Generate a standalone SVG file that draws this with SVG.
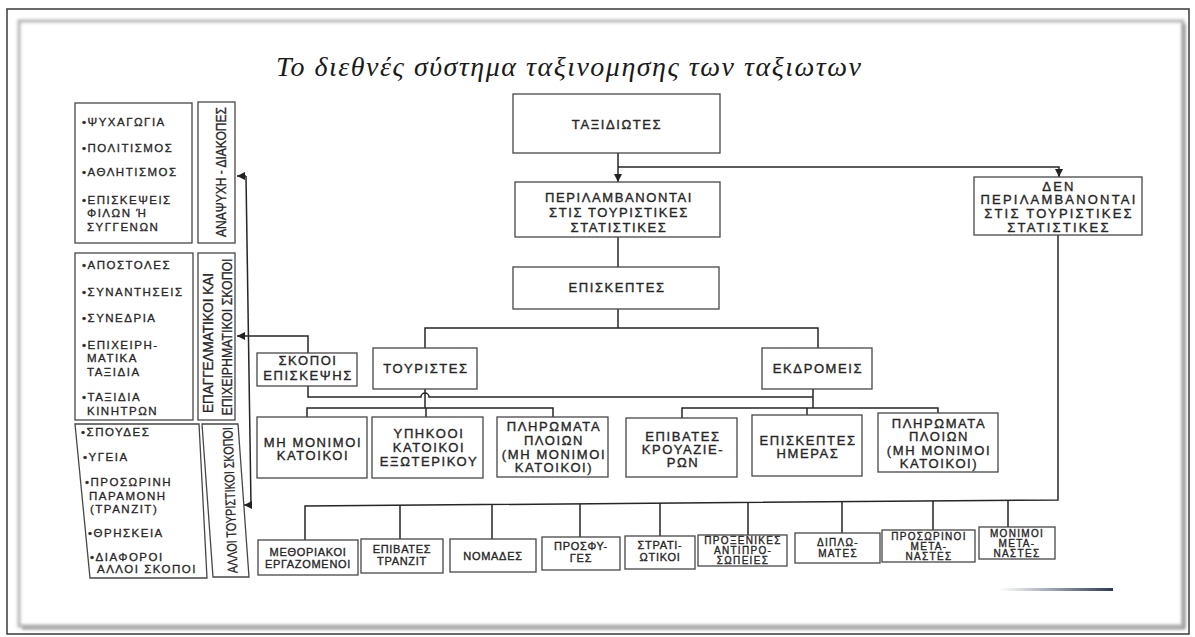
<svg xmlns="http://www.w3.org/2000/svg" width="1195" height="637" viewBox="0 0 1195 637">
  <defs>
    <marker id="arrow" viewBox="0 0 8 8" refX="8" refY="4" markerWidth="8" markerHeight="8" markerUnits="userSpaceOnUse" orient="auto">
      <path d="M0,0 L8,4 L0,8 z" fill="#222"/>
    </marker>
    <filter id="soft" x="-2%" y="-2%" width="104%" height="104%">
      <feGaussianBlur stdDeviation="1.6"/>
    </filter>
    <linearGradient id="rule" gradientUnits="userSpaceOnUse" x1="1000" y1="0" x2="1113" y2="0">
      <stop offset="0" stop-color="#2b3a55" stop-opacity="0"/>
      <stop offset="1" stop-color="#2b3a55"/>
    </linearGradient>
    <style>
      .box { fill: #fff; stroke: #474747; stroke-width: 1.3; }
      .t { font-family: "Liberation Sans", Arial, sans-serif; fill: #262626; stroke: #262626; stroke-width: 0.35px; text-anchor: middle; font-size: 13px; letter-spacing: 1.6px; }
      .wide { letter-spacing: 2.2px; }
      .sm { font-size: 11px; letter-spacing: 0.7px; }
      .xs { font-size: 10px; letter-spacing: 1.3px; }
      .item { font-family: "Liberation Sans", Arial, sans-serif; fill: #262626; stroke: #262626; stroke-width: 0.3px; font-size: 11.5px; letter-spacing: 1.5px; }
      .vlab { font-family: "Liberation Sans", Arial, sans-serif; fill: #262626; stroke: #262626; stroke-width: 0.3px; font-size: 14px; text-anchor: middle; }
      .conn { fill: none; stroke: #262626; stroke-width: 1.5; }
      .title { font-family: "Liberation Serif", "Times New Roman", serif; font-style: italic; font-size: 28px; fill: #1a1a1a; }
    </style>
  </defs>

  <!-- page and card frame -->
  <rect x="0" y="0" width="1195" height="637" fill="#fff"/>
  <rect x="7" y="9" width="1182" height="625" fill="#fff" stroke="#3a3a3a" stroke-width="1.5"/>
  <rect x="19" y="21" width="1164" height="605" fill="none" stroke="#b4b4b4" stroke-width="3" filter="url(#soft)"/>
  <path d="M1184,24 V628 H22" fill="none" stroke="#9a9a9a" stroke-width="3" filter="url(#soft)"/>
  <rect x="1000" y="588" width="113" height="3" fill="url(#rule)"/>

  <text class="title" x="276" y="76" textLength="585" lengthAdjust="spacing">Το διεθνές σύστημα ταξινομησης των ταξιωτων</text>

  <!-- connectors -->
  <g id="connectors">
    <path class="conn" d="M618,153 V182" marker-end="url(#arrow)"/>
    <path class="conn" d="M618,167 H1059 V177" marker-end="url(#arrow)"/>
    <path class="conn" d="M618,237 V267"/>
    <path class="conn" d="M618,309 V328"/>
    <path class="conn" d="M425,348 V328 H818 V348"/>
    <path class="conn" d="M308,386 V397 H421 A4,4 0 0 1 429,397 H813"/>
    <path class="conn" d="M425,389 V408"/>
    <path class="conn" d="M307,417 V408 H553 V417"/>
    <path class="conn" d="M426,408 V417"/>
    <path class="conn" d="M813,389 V408"/>
    <path class="conn" d="M682,418 V408 H938 V413"/>
    <path class="conn" d="M807,408 V415"/>
    <path class="conn" d="M308,353 V336 H237" marker-end="url(#arrow)"/>
    <path class="conn" d="M246,176 L251,505"/>
    <path class="conn" d="M246,176 H237" marker-end="url(#arrow)"/>
    <path class="conn" d="M251,505 H244" marker-end="url(#arrow)"/>
    <path class="conn" d="M1058,235 V500 L305,506 V540"/>
    <path class="conn" d="M400,505 V539 M492,504.5 V539 M580,504 V537 M660,503 V536 M748,502.5 V535 M842,502 V533 M933,501 V530 M1008,500.5 V527"/>
  </g>

  <!-- main hierarchy -->
  <g id="taxidiotes">
    <rect class="box" x="513" y="94" width="207" height="59"/>
    <text class="t" x="617" y="129">ΤΑΞΙΔΙΩΤΕΣ</text>
  </g>
  <g id="included">
    <rect class="box" x="515" y="182" width="205" height="55"/>
    <text class="t" x="619" y="202">ΠΕΡΙΛΑΜΒΑΝΟΝΤΑΙ</text>
    <text class="t" x="619" y="217">ΣΤΙΣ ΤΟΥΡΙΣΤΙΚΕΣ</text>
    <text class="t" x="619" y="232">ΣΤΑΤΙΣΤΙΚΕΣ</text>
  </g>
  <g id="excluded">
    <rect class="box" x="974" y="177" width="168" height="58"/>
    <text class="t wide" x="1059" y="191">ΔΕΝ</text>
    <text class="t wide" x="1059" y="204">ΠΕΡΙΛΑΜΒΑΝΟΝΤΑΙ</text>
    <text class="t wide" x="1059" y="218">ΣΤΙΣ ΤΟΥΡΙΣΤΙΚΕΣ</text>
    <text class="t wide" x="1059" y="232">ΣΤΑΤΙΣΤΙΚΕΣ</text>
  </g>
  <g id="episkeptes">
    <rect class="box" x="513" y="267" width="206" height="42"/>
    <text class="t" x="617" y="292">ΕΠΙΣΚΕΠΤΕΣ</text>
  </g>
  <g id="skopoi">
    <rect class="box" x="257" y="353" width="100" height="33"/>
    <text class="t" x="308" y="365">ΣΚΟΠΟΙ</text>
    <text class="t" x="308" y="380">ΕΠΙΣΚΕΨΗΣ</text>
  </g>
  <g id="touristes">
    <rect class="box" x="373" y="348" width="104" height="41"/>
    <text class="t" x="426" y="373">ΤΟΥΡΙΣΤΕΣ</text>
  </g>
  <g id="ekdromeis">
    <rect class="box" x="762" y="348" width="110" height="41"/>
    <text class="t" x="818" y="373">ΕΚΔΡΟΜΕΙΣ</text>
  </g>

  <!-- tourists -->
  <g id="non-residents">
    <rect class="box" x="257" y="417" width="110" height="61"/>
    <text class="t" x="313" y="447">ΜΗ ΜΟΝΙΜΟΙ</text>
    <text class="t" x="313" y="460">ΚΑΤΟΙΚΟΙ</text>
  </g>
  <g id="nationals-abroad">
    <rect class="box" x="372" y="417" width="111" height="61"/>
    <text class="t" x="429" y="438">ΥΠΗΚΟΟΙ</text>
    <text class="t" x="429" y="452">ΚΑΤΟΙΚΟΙ</text>
    <text class="t" x="429" y="466">ΕΞΩΤΕΡΙΚΟΥ</text>
  </g>
  <g id="crews-tourists">
    <rect class="box" x="497" y="417" width="111" height="60"/>
    <text class="t" x="554" y="431">ΠΛΗΡΩΜΑΤΑ</text>
    <text class="t" x="554" y="445">ΠΛΟΙΩΝ</text>
    <text class="t" x="554" y="459">(ΜΗ ΜΟΝΙΜΟΙ</text>
    <text class="t" x="554" y="472">ΚΑΤΟΙΚΟΙ)</text>
  </g>

  <!-- excursionists -->
  <g id="cruise">
    <rect class="box" x="626" y="418" width="111" height="59"/>
    <text class="t" x="683" y="441">ΕΠΙΒΑΤΕΣ</text>
    <text class="t" x="683" y="454">ΚΡΟΥΑΖΙΕ-</text>
    <text class="t" x="683" y="467">ΡΩΝ</text>
  </g>
  <g id="day-visitors">
    <rect class="box" x="752" y="415" width="110" height="61"/>
    <text class="t" x="808" y="445">ΕΠΙΣΚΕΠΤΕΣ</text>
    <text class="t" x="808" y="458">ΗΜΕΡΑΣ</text>
  </g>
  <g id="crews-excursion">
    <rect class="box" x="878" y="413" width="120" height="59"/>
    <text class="t" x="939" y="428">ΠΛΗΡΩΜΑΤΑ</text>
    <text class="t" x="939" y="441">ΠΛΟΙΩΝ</text>
    <text class="t" x="939" y="455">(ΜΗ ΜΟΝΙΜΟΙ</text>
    <text class="t" x="939" y="468">ΚΑΤΟΙΚΟΙ)</text>
  </g>

  <!-- travellers not counted -->
  <g id="border-workers">
    <rect class="box" x="258" y="540" width="100" height="35"/>
    <text class="t sm" x="308" y="556">ΜΕΘΟΡΙΑΚΟΙ</text>
    <text class="t sm" x="308" y="568">ΕΡΓΑΖΟΜΕΝΟΙ</text>
  </g>
  <g id="transit">
    <rect class="box" x="361" y="539" width="82" height="34"/>
    <text class="t sm" x="402" y="553">ΕΠΙΒΑΤΕΣ</text>
    <text class="t sm" x="402" y="565">ΤΡΑΝΖΙΤ</text>
  </g>
  <g id="nomads">
    <rect class="box" x="450" y="539" width="86" height="33"/>
    <text class="t sm" x="493" y="560">ΝΟΜΑΔΕΣ</text>
  </g>
  <g id="refugees">
    <rect class="box" x="542" y="537" width="78" height="33"/>
    <text class="t sm" x="581" y="550">ΠΡΟΣΦΥ-</text>
    <text class="t sm" x="581" y="562">ΓΕΣ</text>
  </g>
  <g id="military">
    <rect class="box" x="625" y="536" width="70" height="33"/>
    <text class="t sm" x="660" y="549">ΣΤΡΑΤΙ-</text>
    <text class="t sm" x="660" y="561">ΩΤΙΚΟΙ</text>
  </g>
  <g id="consular">
    <rect class="box" x="698" y="535" width="89" height="31"/>
    <text class="t xs" x="743" y="544">ΠΡΟΞΕΝΙΚΕΣ</text>
    <text class="t xs" x="743" y="554">ΑΝΤΙΠΡΟ-</text>
    <text class="t xs" x="743" y="564">ΣΩΠΕΙΕΣ</text>
  </g>
  <g id="diplomats">
    <rect class="box" x="795" y="533" width="85" height="30"/>
    <text class="t xs" x="838" y="546">ΔΙΠΛΩ-</text>
    <text class="t xs" x="838" y="557">ΜΑΤΕΣ</text>
  </g>
  <g id="temp-migrants">
    <rect class="box" x="882" y="530" width="93" height="32"/>
    <text class="t xs" x="929" y="540">ΠΡΟΣΩΡΙΝΟΙ</text>
    <text class="t xs" x="929" y="550">ΜΕΤΑ-</text>
    <text class="t xs" x="929" y="560">ΝΑΣΤΕΣ</text>
  </g>
  <g id="perm-migrants">
    <rect class="box" x="979" y="527" width="76" height="32"/>
    <text class="t xs" x="1017" y="537">ΜΟΝΙΜΟΙ</text>
    <text class="t xs" x="1017" y="547">ΜΕΤΑ-</text>
    <text class="t xs" x="1017" y="557">ΝΑΣΤΕΣ</text>
  </g>

  <!-- purposes of visit -->
  <g id="leisure">
    <rect class="box" x="75" y="103" width="117" height="140"/>
    <text class="item" x="82" y="126">•ΨΥΧΑΓΩΓΙΑ</text>
    <text class="item" x="82" y="152">•ΠΟΛΙΤΙΣΜΟΣ</text>
    <text class="item" x="82" y="176">•ΑΘΛΗΤΙΣΜΟΣ</text>
    <text class="item" x="82" y="204">•ΕΠΙΣΚΕΨΕΙΣ</text>
    <text class="item" x="87" y="217">ΦΙΛΩΝ Ή</text>
    <text class="item" x="87" y="231">ΣΥΓΓΕΝΩΝ</text>
  </g>
  <g id="leisure-label">
    <rect class="box" x="198" y="102" width="37" height="141"/>
    <text class="vlab" transform="translate(226,172) rotate(-90)" textLength="130" lengthAdjust="spacingAndGlyphs">ΑΝΑΨΥΧΗ - ΔΙΑΚΟΠΕΣ</text>
  </g>
  <g id="business">
    <rect class="box" x="75" y="253" width="118" height="167"/>
    <text class="item" x="82" y="269">•ΑΠΟΣΤΟΛΕΣ</text>
    <text class="item" x="82" y="296">•ΣΥΝΑΝΤΗΣΕΙΣ</text>
    <text class="item" x="82" y="322">•ΣΥΝΕΔΡΙΑ</text>
    <text class="item" x="82" y="349">•ΕΠΙΧΕΙΡΗ-</text>
    <text class="item" x="87" y="362">ΜΑΤΙΚΑ</text>
    <text class="item" x="87" y="376">ΤΑΞΙΔΙΑ</text>
    <text class="item" x="82" y="401">•ΤΑΞΙΔΙΑ</text>
    <text class="item" x="87" y="415">ΚΙΝΗΤΡΩΝ</text>
  </g>
  <g id="business-label">
    <rect class="box" x="198" y="253" width="37" height="167"/>
    <text class="vlab" transform="translate(213,343) rotate(-90)" textLength="140" lengthAdjust="spacingAndGlyphs">ΕΠΑΓΓΕΛΜΑΤΙΚΟΙ ΚΑΙ</text>
    <text class="vlab" transform="translate(232,337) rotate(-90)" textLength="157" lengthAdjust="spacingAndGlyphs">ΕΠΙΧΕΙΡΗΜΑΤΙΚΟΙ ΣΚΟΠΟΙ</text>
  </g>
  <g id="other">
    <polygon class="box" points="75,424 199,424 207,578 90,578"/>
    <text class="item" x="81" y="436">•ΣΠΟΥΔΕΣ</text>
    <text class="item" x="83" y="461">•ΥΓΕΙΑ</text>
    <text class="item" x="85" y="486">•ΠΡΟΣΩΡΙΝΗ</text>
    <text class="item" x="89" y="500">ΠΑΡΑΜΟΝΗ</text>
    <text class="item" x="90" y="513">(ΤΡΑΝΖΙΤ)</text>
    <text class="item" x="88" y="537">•ΘΡΗΣΚΕΙΑ</text>
    <text class="item" x="90" y="561">•ΔΙΑΦΟΡΟΙ</text>
    <text class="item" x="97" y="573">ΑΛΛΟΙ ΣΚΟΠΟΙ</text>
  </g>
  <g id="other-label">
    <polygon class="box" points="202,424 238,424 249,577 213,577"/>
    <text class="vlab" transform="translate(235,500) rotate(-92)" textLength="146" lengthAdjust="spacingAndGlyphs">ΑΛΛΟΙ ΤΟΥΡΙΣΤΙΚΟΙ ΣΚΟΠΟΙ</text>
  </g>
</svg>
